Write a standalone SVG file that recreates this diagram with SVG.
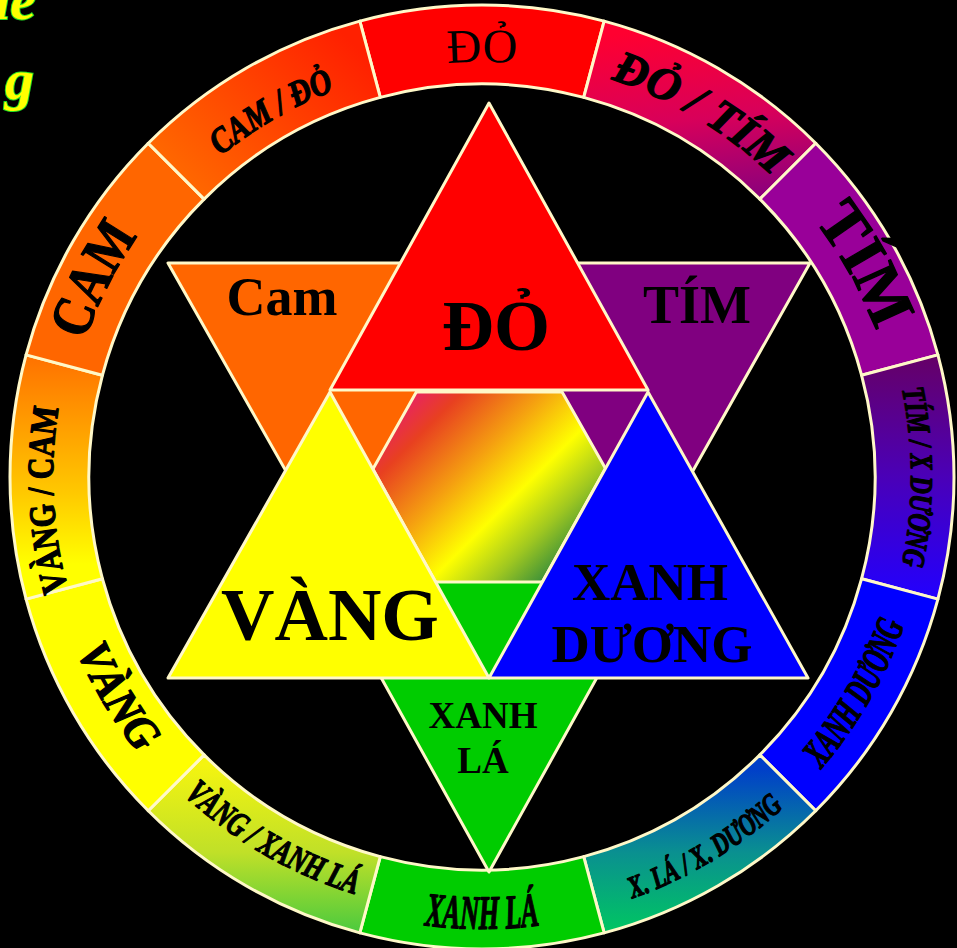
<svg xmlns="http://www.w3.org/2000/svg" width="957" height="948" viewBox="0 0 957 948">
<style>
.seg{stroke:#fff8c8;stroke-width:3;stroke-linejoin:round}
.tri{stroke:#fff8c8;stroke-width:3;stroke-linejoin:round}
.rl{font-family:"Liberation Serif","Times New Roman",serif;font-weight:bold;fill:#000;stroke:#000;stroke-width:1.3;stroke-linejoin:round}
.it{font-style:italic}
.sl{font-family:"Liberation Serif","Times New Roman",serif;font-weight:bold;fill:#000;text-anchor:middle}
.ttl{font-family:"Liberation Serif","Times New Roman",serif;font-weight:bold;font-style:italic;font-size:58px;fill:#ffff00;stroke:#22dd22;stroke-width:2;paint-order:stroke}
</style>
<defs>
<linearGradient id="gDT" gradientUnits="userSpaceOnUse" x1="700" y1="25" x2="720" y2="210"><stop offset="0" stop-color="#ff0030"/><stop offset="0.5" stop-color="#d8005a"/><stop offset="1" stop-color="#820080"/></linearGradient>
<linearGradient id="gTX" gradientUnits="userSpaceOnUse" x1="0" y1="355" x2="0" y2="600"><stop offset="0" stop-color="#660066"/><stop offset="0.5" stop-color="#4a00b8"/><stop offset="1" stop-color="#2200ff"/></linearGradient>
<linearGradient id="gLX" gradientUnits="userSpaceOnUse" x1="0" y1="770" x2="0" y2="935"><stop offset="0" stop-color="#0040c8"/><stop offset="0.5" stop-color="#0a9090"/><stop offset="1" stop-color="#00c860"/></linearGradient>
<linearGradient id="gVX" gradientUnits="userSpaceOnUse" x1="0" y1="765" x2="0" y2="940"><stop offset="0" stop-color="#f4f410"/><stop offset="0.5" stop-color="#c0e028"/><stop offset="1" stop-color="#40c840"/></linearGradient>
<linearGradient id="gVC" gradientUnits="userSpaceOnUse" x1="0" y1="360" x2="0" y2="600"><stop offset="0" stop-color="#ff7400"/><stop offset="0.55" stop-color="#ffc800"/><stop offset="0.85" stop-color="#ffff00"/></linearGradient>
<linearGradient id="gCD" gradientUnits="userSpaceOnUse" x1="340" y1="30" x2="190" y2="180"><stop offset="0" stop-color="#ff2000"/><stop offset="1" stop-color="#ff6600"/></linearGradient>
<linearGradient id="gMid" gradientUnits="userSpaceOnUse" x1="400" y1="400" x2="570" y2="570"><stop offset="0" stop-color="#e8206a"/><stop offset="0.16" stop-color="#e84020"/><stop offset="0.4" stop-color="#f5a010"/><stop offset="0.62" stop-color="#ffff00"/><stop offset="0.8" stop-color="#a0c820"/><stop offset="1" stop-color="#208040"/></linearGradient>
<path id="t414" d="M307.04,101.79 A414,414 0 0 1 656.96,101.79"/>
<path id="t415" d="M306.61,100.88 A415,415 0 0 1 657.39,100.88"/>
<path id="t418" d="M305.35,98.16 A418,418 0 0 1 658.65,98.16"/>
<path id="t420" d="M304.50,96.35 A420,420 0 0 1 659.50,96.35"/>
<path id="t422" d="M303.66,94.54 A422,422 0 0 1 660.34,94.54"/>
<path id="t429" d="M300.70,88.19 A429,429 0 0 1 663.30,88.19"/>
<path id="t431" d="M299.85,86.38 A431,431 0 0 1 664.15,86.38"/>
<path id="b436" d="M297.74,872.15 A436,436 0 0 0 666.26,872.15"/>
<path id="b441" d="M295.63,876.68 A441,441 0 0 0 668.37,876.68"/>
<path id="b447" d="M293.09,882.62 A447,447 0 0 0 670.91,882.62"/>
<path id="b452" d="M290.98,886.65 A452,452 0 0 0 673.02,886.65"/>
</defs>
<rect x="0" y="0" width="957" height="948" fill="#000"/>
<g id="title">
<text class="ttl" x="36" y="19" text-anchor="end">de</text>
<text class="ttl" x="5" y="99">g</text>
</g>
<g id="ring">
<g id="seg-do">
<path class="seg" fill="#ff0000" d="M359.84,21.08 A472,472 0 0 1 604.16,21.08 L583.72,97.39 A393,393 0 0 0 380.28,97.39 Z"/>
<text style="font-family:'Liberation Serif','Times New Roman',serif;font-size:48px;fill:#000"><textPath href="#t415" startOffset="50%" text-anchor="middle">ĐỎ</textPath></text>
</g>
<g id="seg-do-tim">
<path class="seg" fill="url(#gDT)" d="M604.16,21.08 A472,472 0 0 1 815.75,143.25 L759.89,199.11 A393,393 0 0 0 583.72,97.39 Z"/>
<text class="rl it" font-size="46" transform="rotate(31 482 477)"><textPath href="#t418" startOffset="50%" text-anchor="middle" textLength="190" lengthAdjust="spacingAndGlyphs">ĐỎ / TÍM</textPath></text>
</g>
<g id="seg-tim">
<path class="seg" fill="#990099" d="M815.75,143.25 A472,472 0 0 1 937.92,354.84 L861.61,375.28 A393,393 0 0 0 759.89,199.11 Z"/>
<text class="rl" font-size="64" transform="rotate(61 482 477)"><textPath href="#t420" startOffset="50%" text-anchor="middle" textLength="128" lengthAdjust="spacingAndGlyphs">TÍM</textPath></text>
</g>
<g id="seg-tim-xduong">
<path class="seg" fill="url(#gTX)" d="M937.92,354.84 A472,472 0 0 1 937.92,599.16 L861.61,578.72 A393,393 0 0 0 861.61,375.28 Z"/>
<text class="rl it" font-size="32" transform="rotate(90 482 477)"><textPath href="#t429" startOffset="50%" text-anchor="middle" textLength="177" lengthAdjust="spacingAndGlyphs">TÍM / X DƯƠNG</textPath></text>
</g>
<g id="seg-xduong">
<path class="seg" fill="#0000ff" d="M937.92,599.16 A472,472 0 0 1 815.75,810.75 L759.89,754.89 A393,393 0 0 0 861.61,578.72 Z"/>
<text class="rl it" font-size="40" transform="rotate(-60 482 477)"><textPath href="#b447" startOffset="50%" text-anchor="middle" textLength="168" lengthAdjust="spacingAndGlyphs">XANH DƯƠNG</textPath></text>
</g>
<g id="seg-xla-xduong">
<path class="seg" fill="url(#gLX)" d="M815.75,810.75 A472,472 0 0 1 604.16,932.92 L583.72,856.61 A393,393 0 0 0 759.89,754.89 Z"/>
<text class="rl it" font-size="31" transform="rotate(-31 482 477)"><textPath href="#b447" startOffset="50%" text-anchor="middle" textLength="178" lengthAdjust="spacingAndGlyphs">X. LÁ / X. DƯƠNG</textPath></text>
</g>
<g id="seg-xla">
<path class="seg" fill="#00cc00" d="M604.16,932.92 A472,472 0 0 1 359.84,932.92 L380.28,856.61 A393,393 0 0 0 583.72,856.61 Z"/>
<text class="rl it" font-size="48"><textPath href="#b452" startOffset="50%" text-anchor="middle" textLength="116" lengthAdjust="spacingAndGlyphs">XANH LÁ</textPath></text>
</g>
<g id="seg-vang-xla">
<path class="seg" fill="url(#gVX)" d="M359.84,932.92 A472,472 0 0 1 148.25,810.75 L204.11,754.89 A393,393 0 0 0 380.28,856.61 Z"/>
<text class="rl it" font-size="35" transform="rotate(30 482 477)"><textPath href="#b436" startOffset="50%" text-anchor="middle" textLength="200" lengthAdjust="spacingAndGlyphs">VÀNG / XANH LÁ</textPath></text>
</g>
<g id="seg-vang">
<path class="seg" fill="#ffff00" d="M148.25,810.75 A472,472 0 0 1 26.08,599.16 L102.39,578.72 A393,393 0 0 0 204.11,754.89 Z"/>
<text class="rl it" font-size="46" transform="rotate(59 482 477)"><textPath href="#b441" startOffset="50%" text-anchor="middle" textLength="120" lengthAdjust="spacingAndGlyphs">VÀNG</textPath></text>
</g>
<g id="seg-vang-cam">
<path class="seg" fill="url(#gVC)" d="M26.08,599.16 A472,472 0 0 1 26.08,354.84 L102.39,375.28 A393,393 0 0 0 102.39,578.72 Z"/>
<text class="rl" font-size="37" transform="rotate(-93 482 477)"><textPath href="#t429" startOffset="50%" text-anchor="middle" textLength="184" lengthAdjust="spacingAndGlyphs">VÀNG / CAM</textPath></text>
</g>
<g id="seg-cam">
<path class="seg" fill="#ff6600" d="M26.08,354.84 A472,472 0 0 1 148.25,143.25 L204.11,199.11 A393,393 0 0 0 102.39,375.28 Z"/>
<text class="rl" font-size="58" transform="rotate(-63 482 477)"><textPath href="#t420" startOffset="50%" text-anchor="middle" textLength="118" lengthAdjust="spacingAndGlyphs">CAM</textPath></text>
</g>
<g id="seg-cam-do">
<path class="seg" fill="url(#gCD)" d="M148.25,143.25 A472,472 0 0 1 359.84,21.08 L380.28,97.39 A393,393 0 0 0 204.11,199.11 Z"/>
<text class="rl it" font-size="36" transform="rotate(-30 482 477)"><textPath href="#t414" startOffset="50%" text-anchor="middle" textLength="132" lengthAdjust="spacingAndGlyphs">CAM / ĐỎ</textPath></text>
</g>
</g>
<g id="star">
<g id="center-mix"><polygon class="tri" fill="url(#gMid)" points="330,392 648,392 489,678"/></g>
<g id="tri-cam">
<polygon class="tri" fill="#ff6600" points="168,263 489,263 329,547"/>
<text class="sl" x="282" y="315" font-size="54">Cam</text>
</g>
<g id="tri-tim">
<polygon class="tri" fill="#800080" points="489,263 810,263 650,547"/>
<text class="sl" x="697" y="323" font-size="54">TÍM</text>
</g>
<g id="tri-xla">
<polygon class="tri" fill="#00cc00" points="328,582 650,582 489,872"/>
<text class="sl" x="483" y="728" font-size="37">XANH</text>
<text class="sl" x="483" y="773" font-size="37">LÁ</text>
</g>
<g id="tri-do">
<polygon class="tri" fill="#ff0000" points="489,103 648,390 330,390"/>
<text class="sl" x="496" y="350" font-size="72">ĐỎ</text>
</g>
<g id="tri-vang">
<polygon class="tri" fill="#ffff00" points="330,392 489,678 168,678"/>
<text class="sl" x="330" y="640" font-size="74">VÀNG</text>
</g>
<g id="tri-xduong">
<polygon class="tri" fill="#0000ff" points="648,392 808,678 489,678"/>
<text class="sl" x="650" y="600" font-size="53">XANH</text>
<text class="sl" x="652" y="662" font-size="53">DƯƠNG</text>
</g>
</g>
<g id="connectors"/>
</svg>
